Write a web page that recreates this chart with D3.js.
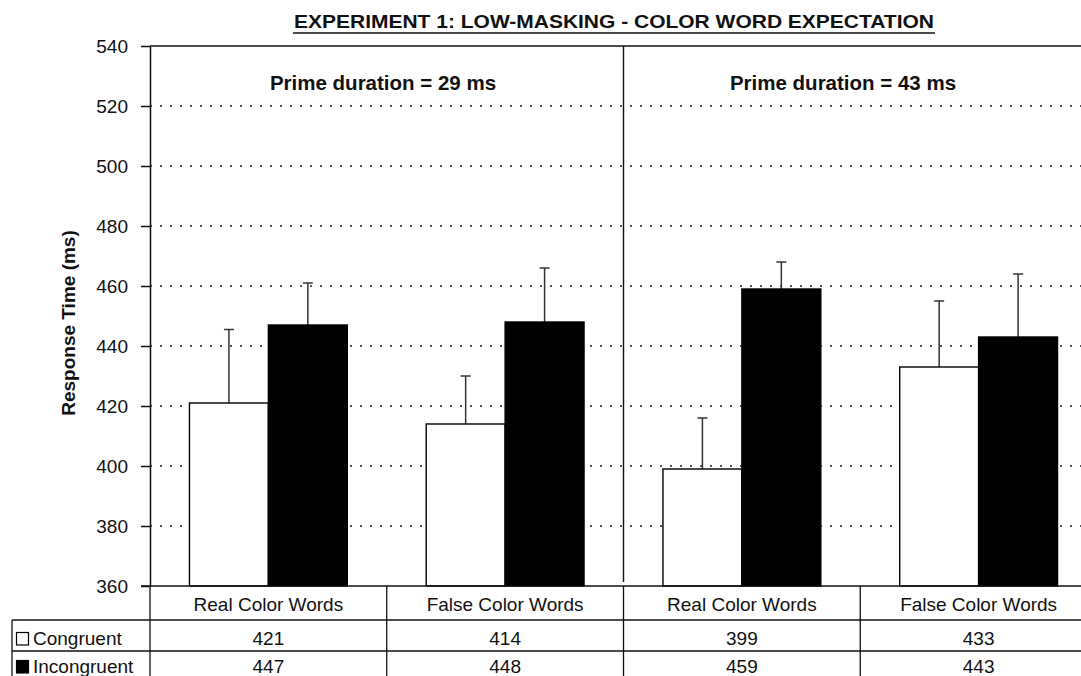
<!DOCTYPE html>
<html>
<head>
<meta charset="utf-8">
<script src="https://cdn.jsdelivr.net/npm/d3@7"></script>
<style>
  body { margin: 0; background: #fff; }
  svg { display: block; font-family: Arial, "Liberation Sans", Helvetica, sans-serif; }
</style>
</head>
<body>
<div id="chart"></div>
<script>
// --- data ---
const categories = ["Real Color Words", "False Color Words", "Real Color Words", "False Color Words"];
const panelLabels = ["Prime duration = 29 ms", "Prime duration = 43 ms"];
const seriesNames = ["Congruent", "Incongruent"];
const congruent = [421, 414, 399, 433];
const incongruent = [447, 448, 459, 443];
const congruentErr = [24.5, 16, 17, 22];
const incongruentErr = [14, 18, 9, 21];
const yTicks = [360, 380, 400, 420, 440, 460, 480, 500, 520, 540];
const title = "EXPERIMENT 1: LOW-MASKING  - COLOR WORD EXPECTATION";

// --- sizes ---
const W = 1081, H = 676;
const plot = { left: 150, right: 1097, top: 46, bottom: 586 };
const tableLeft = 12;
const rowLines = [620, 651];
const ink = "#111";

const svg = d3.select("#chart").append("svg")
  .attr("width", W)
  .attr("height", H);

// scales
const x = d3.scaleBand()
  .domain(d3.range(categories.length))
  .range([plot.left, plot.right])
  .paddingInner(0).paddingOuter(0);

const xs = d3.scaleBand()
  .domain(seriesNames)
  .range([0, x.bandwidth()])
  .paddingInner(0)
  .paddingOuter(0.5);

const y = d3.scaleLinear()
  .domain([360, 540])
  .range([plot.bottom, plot.top]);

// title
svg.append("text")
  .attr("x", 614).attr("y", 28)
  .attr("text-anchor", "middle")
  .attr("font-weight", "bold")
  .attr("font-size", 18)
  .attr("textLength", 640)
  .attr("lengthAdjust", "spacingAndGlyphs")
  .attr("fill", ink)
  .text(title);
svg.append("line")
  .attr("x1", 293).attr("x2", 935)
  .attr("y1", 33).attr("y2", 33)
  .attr("stroke", ink).attr("stroke-width", 1.5);

// grid lines (dotted)
svg.append("g")
  .selectAll("line")
  .data(yTicks.filter(d => d > 360 && d < 540))
  .join("line")
  .attr("x1", plot.left).attr("x2", W)
  .attr("y1", d => y(d)).attr("y2", d => y(d))
  .attr("stroke", "#222")
  .attr("stroke-width", 1.6)
  .attr("stroke-dasharray", "2,8");

// top frame line
svg.append("line")
  .attr("x1", plot.left).attr("x2", W)
  .attr("y1", plot.top).attr("y2", plot.top)
  .attr("stroke", ink).attr("stroke-width", 1.4);

// panel divider
svg.append("line")
  .attr("x1", x(2)).attr("x2", x(2))
  .attr("y1", plot.top).attr("y2", plot.bottom - 4)
  .attr("stroke", ink).attr("stroke-width", 1.4);

// panel labels
const panelX = [383, 843];
svg.append("g")
  .selectAll("text")
  .data(panelLabels)
  .join("text")
  .attr("x", (d, i) => panelX[i])
  .attr("y", 90)
  .attr("text-anchor", "middle")
  .attr("font-weight", "bold")
  .attr("font-size", 20.5)
  .attr("fill", ink)
  .text(d => d);

// bars
const rows = categories.map((c, i) => [
  { key: "Congruent", i, value: congruent[i], err: congruentErr[i] },
  { key: "Incongruent", i, value: incongruent[i], err: incongruentErr[i] }
]);

const groups = svg.append("g")
  .selectAll("g")
  .data(rows)
  .join("g")
  .attr("transform", (d, i) => `translate(${x(i)},0)`);

// error bars (upper only)
groups.selectAll("line.err")
  .data(d => d)
  .join("line")
  .attr("class", "err")
  .attr("x1", d => xs(d.key) + xs.bandwidth() / 2)
  .attr("x2", d => xs(d.key) + xs.bandwidth() / 2)
  .attr("y1", d => y(d.value))
  .attr("y2", d => y(d.value + d.err))
  .attr("stroke", "#333").attr("stroke-width", 1.5);

groups.selectAll("line.cap")
  .data(d => d)
  .join("line")
  .attr("class", "cap")
  .attr("x1", d => xs(d.key) + xs.bandwidth() / 2 - 5)
  .attr("x2", d => xs(d.key) + xs.bandwidth() / 2 + 5)
  .attr("y1", d => y(d.value + d.err))
  .attr("y2", d => y(d.value + d.err))
  .attr("stroke", "#333").attr("stroke-width", 1.5);

groups.selectAll("rect")
  .data(d => d)
  .join("rect")
  .attr("x", d => xs(d.key))
  .attr("width", xs.bandwidth())
  .attr("y", d => y(d.value))
  .attr("height", d => y(360) - y(d.value))
  .attr("fill", d => d.key === "Congruent" ? "#fff" : "#000")
  .attr("stroke", "#000")
  .attr("stroke-width", 1.4);

// y axis
const yAxis = svg.append("g")
  .attr("transform", `translate(${plot.left},0)`)
  .call(d3.axisLeft(y).tickValues(yTicks).tickSize(9).tickSizeOuter(0).tickPadding(13));
yAxis.select(".domain").attr("stroke", ink).attr("stroke-width", 1.5);
yAxis.selectAll(".tick line").attr("stroke", ink).attr("stroke-width", 1.5);
yAxis.selectAll(".tick text")
  .attr("font-size", 19)
  .attr("font-family", "Arial, 'Liberation Sans', sans-serif")
  .attr("fill", ink);

svg.append("text")
  .attr("transform", `translate(75,${(plot.top + plot.bottom) / 2 + 7}) rotate(-90)`)
  .attr("text-anchor", "middle")
  .attr("font-weight", "bold")
  .attr("font-size", 19)
  .attr("fill", ink)
  .text("Response Time (ms)");

// x axis line / table top
svg.append("line")
  .attr("x1", plot.left - 9).attr("x2", W)
  .attr("y1", plot.bottom).attr("y2", plot.bottom)
  .attr("stroke", ink).attr("stroke-width", 1.5);

// data table
const table = svg.append("g");

table.selectAll("line.row")
  .data(rowLines)
  .join("line")
  .attr("class", "row")
  .attr("x1", tableLeft).attr("x2", W)
  .attr("y1", d => d).attr("y2", d => d)
  .attr("stroke", ink).attr("stroke-width", 1.3);

table.selectAll("line.col")
  .data(d3.range(categories.length))
  .join("line")
  .attr("class", "col")
  .attr("x1", d => x(d)).attr("x2", d => x(d))
  .attr("y1", plot.bottom).attr("y2", H)
  .attr("stroke", ink).attr("stroke-width", 1.3);

table.append("line")
  .attr("x1", tableLeft).attr("x2", tableLeft)
  .attr("y1", rowLines[0]).attr("y2", H)
  .attr("stroke", ink).attr("stroke-width", 1.3);

table.selectAll("text.cat")
  .data(categories)
  .join("text")
  .attr("class", "cat")
  .attr("x", (d, i) => x(i) + x.bandwidth() / 2)
  .attr("y", 611)
  .attr("text-anchor", "middle")
  .attr("font-size", 19)
  .attr("fill", ink)
  .text(d => d);

const tableRows = [congruent, incongruent];
const rowBase = [645, 673];
tableRows.forEach((vals, r) => {
  table.selectAll(`text.v${r}`)
    .data(vals)
    .join("text")
    .attr("class", `v${r}`)
    .attr("x", (d, i) => x(i) + x.bandwidth() / 2)
    .attr("y", rowBase[r])
    .attr("text-anchor", "middle")
    .attr("font-size", 19)
    .attr("fill", ink)
    .text(d => d);

  table.append("rect")
    .attr("x", 16.5).attr("y", rowBase[r] - 12.5)
    .attr("width", 12).attr("height", 12.5)
    .attr("fill", r === 0 ? "#fff" : "#000")
    .attr("stroke", "#000").attr("stroke-width", 1.2);

  table.append("text")
    .attr("x", 33).attr("y", rowBase[r])
    .attr("font-size", 19)
    .attr("fill", ink)
    .text(seriesNames[r]);
});
</script>
</body>
</html>
